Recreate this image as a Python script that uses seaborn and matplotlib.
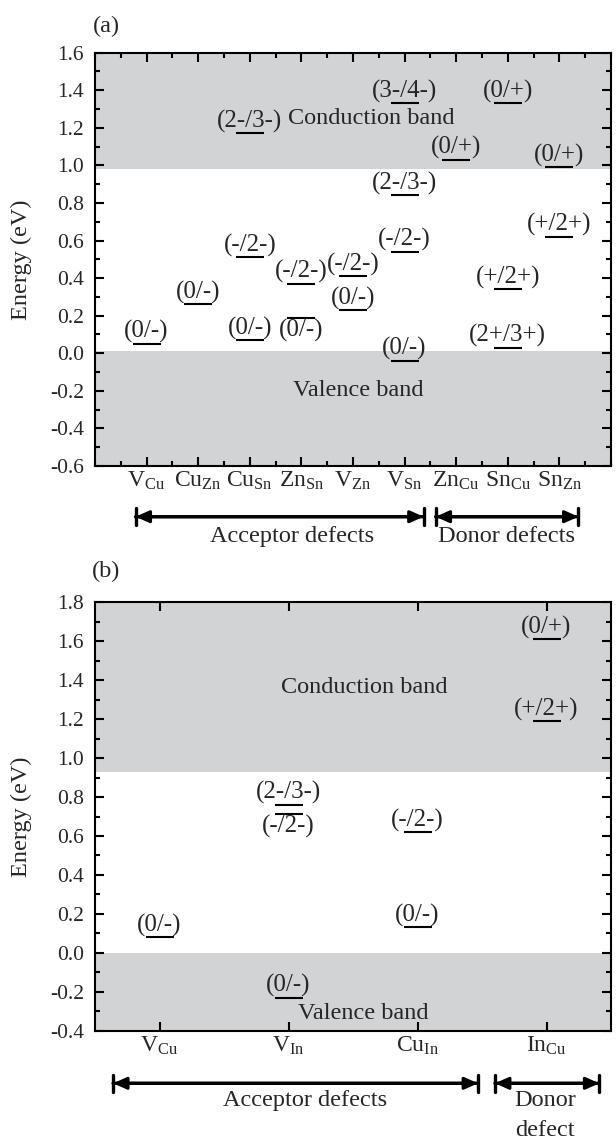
import numpy as np
import pandas as pd
import matplotlib
matplotlib.use("Agg")
import matplotlib.pyplot as plt
import matplotlib.transforms as mtrans
from matplotlib.ticker import MultipleLocator, FuncFormatter
import seaborn as sns

# ---------------- data ----------------
cats_a = ["V_{Cu}", "Cu_{Zn}", "Cu_{Sn}", "Zn_{Sn}", "V_{Zn}", "V_{Sn}",
          "Zn_{Cu}", "Sn_{Cu}", "Sn_{Zn}"]
def_a = ["V_{Cu}", "Cu_{Zn}", "Cu_{Sn}", "Cu_{Sn}", "Cu_{Sn}", "Zn_{Sn}", "Zn_{Sn}",
         "V_{Zn}", "V_{Zn}", "V_{Sn}", "V_{Sn}", "V_{Sn}", "V_{Sn}",
         "Zn_{Cu}", "Sn_{Cu}", "Sn_{Cu}", "Sn_{Cu}", "Sn_{Zn}", "Sn_{Zn}"]
E_a = [0.05, 0.26, 0.07, 0.51, 1.17, 0.19, 0.37,
       0.23, 0.41, -0.04, 0.54, 0.84, 1.33,
       1.03, 0.03, 0.34, 1.33, 0.62, 0.99]
lab_a = ["(0/-)", "(0/-)", "(0/-)", "(-/2-)", "(2-/3-)", "(0/-)", "(-/2-)",
         "(0/-)", "(-/2-)", "(0/-)", "(-/2-)", "(2-/3-)", "(3-/4-)",
         "(0/+)", "(2+/3+)", "(+/2+)", "(0/+)", "(+/2+)", "(0/+)"]
below_a = [("Zn_{Sn}", "(0/-)")]
cbm_a, vbm_a = 0.98, 0.01
ylim_a = (-0.6, 1.6)

cats_b = ["V_{Cu}", "V_{In}", "Cu_{In}", "In_{Cu}"]
def_b = ["V_{Cu}", "V_{In}", "V_{In}", "V_{In}", "Cu_{In}", "Cu_{In}", "In_{Cu}", "In_{Cu}"]
E_b = [0.08, -0.23, 0.715, 0.76, 0.13, 0.62, 1.19, 1.61]
lab_b = ["(0/-)", "(0/-)", "(-/2-)", "(2-/3-)", "(0/-)", "(-/2-)", "(+/2+)", "(0/+)"]
below_b = [("V_{In}", "(-/2-)")]
cbm_b, vbm_b = 0.93, 0.0
ylim_b = (-0.4, 1.8)

# ---------------- style ----------------
sns.set_theme(style="ticks")
plt.rcParams["font.family"] = ["Liberation Serif", "DejaVu Serif"]
plt.rcParams["mathtext.fontset"] = "custom"
plt.rcParams["mathtext.rm"] = "Liberation Serif"
plt.rcParams["mathtext.it"] = "Liberation Serif:italic"
plt.rcParams["axes.unicode_minus"] = False

GRAY = "#d1d3d4"
FS = 17.5
FS_LEV = 18
FS_TICK = 15.5
FS_CAT = 17

fig = plt.figure(figsize=(6.16, 11.4), dpi=100)
ax_a = fig.add_axes([95 / 616, 1 - 466 / 1140, 516 / 616, 413.3 / 1140])
ax_b = fig.add_axes([95 / 616, 1 - 1030.7 / 1140, 516 / 616, 428.4 / 1140])


def draw_panel(ax, cats, defects, energies, labels, below, cbm, vbm, ylim, xlim, minor_x):
    ax.set_xlim(*xlim)
    ax.set_ylim(*ylim)
    ax.axhspan(cbm, ylim[1], color=GRAY, lw=0, zorder=0)
    ax.axhspan(ylim[0], vbm, color=GRAY, lw=0, zorder=0)
    xs = [cats.index(d) + 1 for d in defects]
    df = pd.DataFrame({"x": xs, "E": energies, "label": labels})
    sns.scatterplot(data=df, x="x", y="E", marker="_", s=392, color="black",
                    linewidth=1.5, ax=ax, legend=False, zorder=3)
    for d, x, e, lab in zip(defects, xs, energies, labels):
        if (d, lab) in below:
            ax.annotate(lab, (x, e), xytext=(0, -1.0), textcoords="offset points",
                        ha="center", va="top", fontsize=FS_LEV, zorder=4)
        else:
            ax.annotate(lab, (x, e), xytext=(0, 0.4), textcoords="offset points",
                        ha="center", va="bottom", fontsize=FS_LEV, zorder=4)
    ax.set_xlabel("")
    ax.set_ylabel("")
    ax.set_xticks(range(1, len(cats) + 1))
    ax.set_xticklabels([r"$\mathrm{%s}$" % c for c in cats], fontsize=FS_CAT)
    if minor_x:
        ax.xaxis.set_minor_locator(MultipleLocator(0.5))
    ax.yaxis.set_major_locator(MultipleLocator(0.2))
    ax.yaxis.set_minor_locator(MultipleLocator(0.1))
    ax.yaxis.set_major_formatter(FuncFormatter(lambda v, p: f"{round(v, 1) + 0:.1f}"))
    for sp in ax.spines.values():
        sp.set_linewidth(1.5)
        sp.set_color("black")
    ax.tick_params(which="both", direction="in", top=True, right=True,
                   width=1.5, color="black")
    ax.tick_params(which="major", length=6.5)
    ax.tick_params(which="minor", length=3.6)
    ax.tick_params(axis="y", which="major", labelsize=FS_TICK, pad=8)
    ax.tick_params(axis="x", which="major", pad=3)
    ax.set_facecolor("white")


def bracket(ax, x0, x1, y):
    tr = mtrans.blended_transform_factory(ax.transData, ax.transAxes)
    ax.annotate("", xy=(x1, y), xytext=(x0, y), xycoords=tr, textcoords=tr,
                arrowprops=dict(arrowstyle="<|-|>,head_length=0.45,head_width=0.2",
                                lw=2.2, color="black", shrinkA=0, shrinkB=0,
                                mutation_scale=18),
                annotation_clip=False)
    ax.annotate("", xy=(x1, y), xytext=(x0, y), xycoords=tr, textcoords=tr,
                arrowprops=dict(arrowstyle="|-|,widthA=0.34,widthB=0.34",
                                lw=2.4, color="black", shrinkA=0, shrinkB=0,
                                mutation_scale=18),
                annotation_clip=False)


def below_text(ax, x, y, s):
    tr = mtrans.blended_transform_factory(ax.transData, ax.transAxes)
    ax.text(x, y, s, transform=tr, ha="center", va="center", fontsize=FS)


# panel (a)
draw_panel(ax_a, cats_a, def_a, E_a, lab_a, below_a, cbm_a, vbm_a, ylim_a, (0, 10), True)
ax_a.text(5.36, 1.25, "Conduction band", ha="center", va="center", fontsize=FS, zorder=4)
ax_a.text(5.1, -0.2, "Valence band", ha="center", va="center", fontsize=FS, zorder=4)
bracket(ax_a, 0.785, 6.37, -0.1227)
bracket(ax_a, 6.6, 9.37, -0.1227)
below_text(ax_a, 3.82, -0.171, "Acceptor defects")
below_text(ax_a, 7.97, -0.171, "Donor defects")

# panel (b)
draw_panel(ax_b, cats_b, def_b, E_b, lab_b, below_b, cbm_b, vbm_b, ylim_b, (0.5, 4.5), False)
ax_b.text(2.585, 1.36, "Conduction band", ha="center", va="center", fontsize=FS, zorder=4)
ax_b.text(2.58, -0.31, "Valence band", ha="center", va="center", fontsize=FS, zorder=4)
bracket(ax_b, 0.64, 3.47, -0.1228)
bracket(ax_b, 3.60, 4.41, -0.1228)
below_text(ax_b, 2.13, -0.162, "Acceptor defects")
below_text(ax_b, 3.99, -0.162, "Donor")
below_text(ax_b, 3.99, -0.232, "defect")

# panel letters and y labels
fig.text(106 / 616, 1 - 26.7 / 1140, "(a)", ha="center", va="center", fontsize=FS)
fig.text(106.5 / 616, 1 - 571.7 / 1140, "(b)", ha="center", va="center", fontsize=FS)
fig.text(21.6 / 616, 1 - 259.4 / 1140, "Energy (eV)", rotation=90,
         ha="center", va="center", fontsize=FS)
fig.text(21.6 / 616, 1 - 816.5 / 1140, "Energy (eV)", rotation=90,
         ha="center", va="center", fontsize=FS)

fig.savefig("out.png", dpi=100, facecolor="white")
